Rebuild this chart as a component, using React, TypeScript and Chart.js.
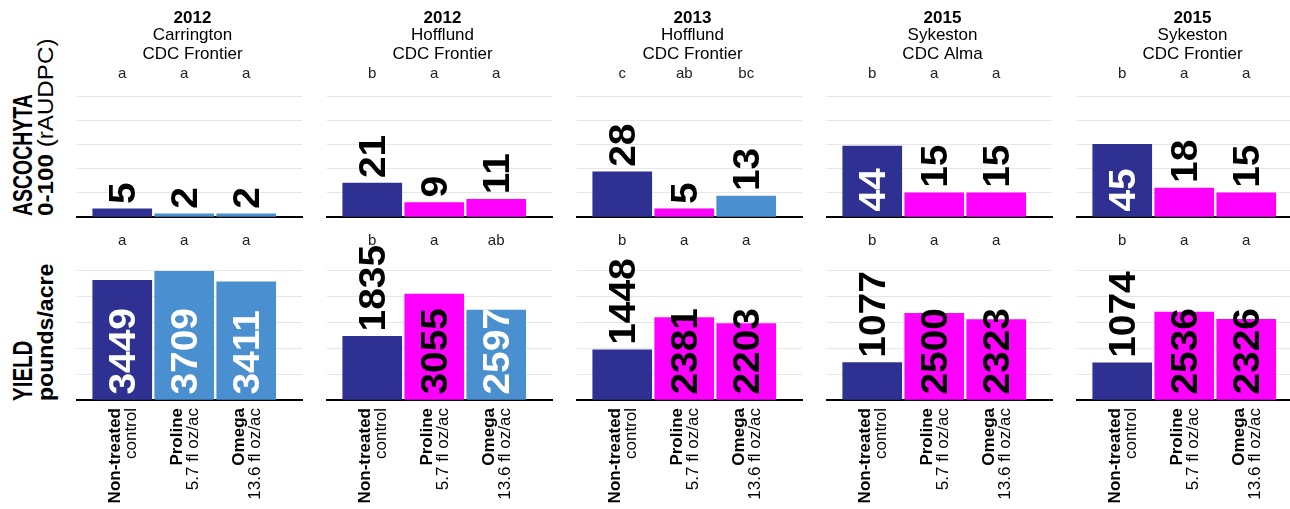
import React, { useEffect, useRef } from "react";
import { Chart, registerables } from "chart.js";

Chart.register(...registerables);

// ---------- data ----------
const panelYears = ["2012", "2012", "2013", "2015", "2015"];
const panelSites = ["Carrington", "Hofflund", "Hofflund", "Sykeston", "Sykeston"];
const panelCultivars = ["CDC Frontier", "CDC Frontier", "CDC Frontier", "CDC Alma", "CDC Frontier"];

const treatmentNames = ["Non-treated", "Proline", "Omega"];
const treatmentDetails = ["control", "5.7 fl oz/ac", "13.6 fl oz/ac"];

const ascochytaValues = [
  [5, 2, 2],
  [21, 9, 11],
  [28, 5, 13],
  [44, 15, 15],
  [45, 18, 15],
];
const yieldValues = [
  [3449, 3709, 3411],
  [1835, 3055, 2597],
  [1448, 2381, 2203],
  [1077, 2500, 2323],
  [1074, 2536, 2326],
];

const ascochytaLetters = [
  ["a", "a", "a"],
  ["b", "a", "a"],
  ["c", "ab", "bc"],
  ["b", "a", "a"],
  ["b", "a", "a"],
];
const yieldLetters = [
  ["a", "a", "a"],
  ["b", "a", "ab"],
  ["b", "a", "a"],
  ["b", "a", "a"],
  ["b", "a", "a"],
];

// N = non-treated navy, B = light blue, M = magenta
const ascochytaColorKeys = [
  ["N", "B", "B"],
  ["N", "M", "M"],
  ["N", "M", "B"],
  ["N", "M", "M"],
  ["N", "M", "M"],
];
const yieldColorKeys = [
  ["N", "B", "B"],
  ["N", "M", "B"],
  ["N", "M", "M"],
  ["N", "M", "M"],
  ["N", "M", "M"],
];

// whether the value label sits inside the bar
const ascochytaLabelInside = [
  [false, false, false],
  [false, false, false],
  [false, false, false],
  [true, false, false],
  [true, false, false],
];
const yieldLabelInside = [
  [true, true, true],
  [false, true, true],
  [false, true, true],
  [false, true, true],
  [false, true, true],
];

const ascochytaAxis = { max: 75, step: 15 };
const yieldAxis = { max: 3750, step: 750 };

// ---------- styles ----------
const COLORS: Record<string, string> = { N: "#2e3192", B: "#4a8fcf", M: "#ff00ff" };
const FONT = '"Liberation Sans", Arial, Helvetica, sans-serif';
const PANEL_STEP = 250;
const CANVAS_W = 250;

const panelPlugin = {
  id: "panelText",
  afterDatasetsDraw(chart: any, _args: any, opts: any) {
    const ctx = chart.ctx as CanvasRenderingContext2D;
    const area = chart.chartArea;
    const meta = chart.getDatasetMeta(0);
    const p = opts.panel as number;
    const isTop = opts.row === 0;
    const values = isTop ? ascochytaValues[p] : yieldValues[p];
    const letters = isTop ? ascochytaLetters[p] : yieldLetters[p];
    const inside = isTop ? ascochytaLabelInside[p] : yieldLabelInside[p];
    const keys = isTop ? ascochytaColorKeys[p] : yieldColorKeys[p];

    ctx.save();
    meta.data.forEach((bar: any, i: number) => {
      const cx = bar.x;
      // value label
      const numSize = 36;
      const cap = numSize * 0.716;
      const start = inside[i] ? bar.base - 5 : bar.y - 5;
      ctx.save();
      ctx.translate(cx, start);
      ctx.rotate(-Math.PI / 2);
      ctx.scale(1.08, 1);
      ctx.font = `bold ${numSize}px ${FONT}`;
      ctx.textAlign = "left";
      ctx.textBaseline = "alphabetic";
      ctx.fillStyle = inside[i] && keys[i] !== "M" ? "#ffffff" : "#000000";
      ctx.fillText(String(values[i]), 0, cap / 2);
      ctx.restore();

      // significance letters
      ctx.font = `15px ${FONT}`;
      ctx.fillStyle = "#222222";
      ctx.textAlign = "center";
      ctx.textBaseline = "middle";
      ctx.fillText(letters[i], cx, area.top - (isTop ? 22 : 29));

      // category labels (bottom row only)
      if (!isTop) {
        const c = 17 * 0.716;
        ctx.save();
        ctx.translate(cx, area.bottom + 8);
        ctx.rotate(-Math.PI / 2);
        ctx.textAlign = "right";
        ctx.textBaseline = "alphabetic";
        ctx.fillStyle = "#000000";
        ctx.font = `bold 17px ${FONT}`;
        ctx.fillText(treatmentNames[i], 0, -8 + c / 2);
        ctx.font = `17px ${FONT}`;
        ctx.fillText(treatmentDetails[i], 0, 8 + c / 2);
        ctx.restore();
      }
    });

    if (isTop) {
      const mx = (area.left + area.right) / 2 + 3;
      ctx.fillStyle = "#000000";
      ctx.textAlign = "center";
      ctx.textBaseline = "alphabetic";
      ctx.font = `bold 17px ${FONT}`;
      ctx.fillText(panelYears[p], mx, 23);
      ctx.font = `17px ${FONT}`;
      ctx.fillText(panelSites[p], mx, 40);
      ctx.fillText(panelCultivars[p], mx, 59);
    }
    ctx.restore();
  },
};

function makeConfig(panel: number, row: number) {
  const isTop = row === 0;
  const values = isTop ? ascochytaValues[panel] : yieldValues[panel];
  const keys = isTop ? ascochytaColorKeys[panel] : yieldColorKeys[panel];
  const axis = isTop ? ascochytaAxis : yieldAxis;
  return {
    type: "bar" as const,
    data: {
      datasets: [
        {
          data: values.map((v, i) => ({ x: i, y: v })),
          backgroundColor: keys.map((k) => COLORS[k]),
          borderWidth: 0,
          barThickness: 59,
        },
      ],
    },
    options: {
      animation: false,
      responsive: false,
      devicePixelRatio: 1,
      layout: {
        padding: isTop
          ? { left: 15, right: 10, top: 96, bottom: 13 }
          : { left: 15, right: 10, top: 40, bottom: 109 },
      },
      plugins: {
        legend: { display: false },
        tooltip: { enabled: false },
        title: { display: false },
        panelText: { panel, row },
      },
      scales: {
        x: {
          type: "linear",
          min: -0.73,
          max: 2.9,
          offset: false,
          grid: { display: false, drawTicks: false, offset: false },
          ticks: { display: false },
          border: { display: true, color: "#000000", width: 2 },
        },
        y: {
          min: 0,
          max: axis.max,
          ticks: { display: false, stepSize: axis.step },
          grid: { color: "#e6e6e6", lineWidth: 1, drawTicks: false },
          border: { display: false },
        },
      },
    },
    plugins: [panelPlugin],
  };
}

function PanelChart({ panel, row }: { panel: number; row: number }) {
  const ref = useRef<HTMLCanvasElement | null>(null);
  useEffect(() => {
    if (!ref.current) return;
    const chart = new Chart(ref.current, makeConfig(panel, row) as any);
    return () => chart.destroy();
  }, [panel, row]);
  const h = row === 0 ? 230 : 279;
  return (
    <canvas
      ref={ref}
      width={CANVAS_W}
      height={h}
      style={{
        position: "absolute",
        left: 62 + PANEL_STEP * panel,
        top: row === 0 ? 0 : 230,
        width: CANVAS_W,
        height: h,
        display: "block",
      }}
    />
  );
}

const rotLine = (
  left: number,
  bottom: number,
  size: number,
  stretch: number
): React.CSSProperties => ({
  position: "absolute",
  left,
  top: bottom,
  fontSize: size,
  lineHeight: `${size}px`,
  transformOrigin: "0 0",
  transform: `rotate(-90deg) scaleX(${stretch})`,
  whiteSpace: "nowrap",
  fontFamily: FONT,
  color: "#000",
});

export default function App() {
  const panels = [0, 1, 2, 3, 4];
  return (
    <div
      style={{
        position: "fixed",
        left: 0,
        top: 0,
        width: 1290,
        height: 509,
        overflow: "hidden",
        background: "#ffffff",
      }}
    >
      {panels.map((p) => (
        <PanelChart key={"t" + p} panel={p} row={0} />
      ))}
      {panels.map((p) => (
        <PanelChart key={"b" + p} panel={p} row={1} />
      ))}
      <div style={{ ...rotLine(10, 216, 27, 0.72), fontWeight: "bold" }}>ASCOCHYTA</div>
      <div style={rotLine(35, 216, 22, 1.1)}>
        <b>0-100</b> (rAUDPC)
      </div>
      <div style={{ ...rotLine(10, 401, 27, 0.76), fontWeight: "bold" }}>YIELD</div>
      <div style={{ ...rotLine(35, 401, 22, 1.05), fontWeight: "bold" }}>pounds/acre</div>
    </div>
  );
}
